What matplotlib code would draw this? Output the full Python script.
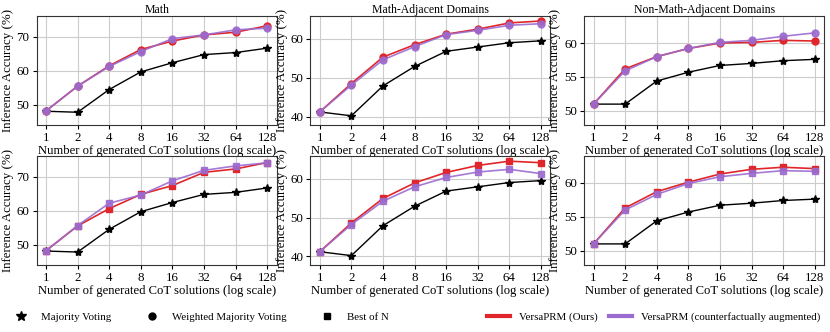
import numpy as np
import matplotlib
matplotlib.use("Agg")
import matplotlib.pyplot as plt
from matplotlib.lines import Line2D

# =========================
# DATA
# =========================
n_values = [1, 2, 4, 8, 16, 32, 64, 128]
titles = ["Math", "Math-Adjacent Domains", "Non-Math-Adjacent Domains"]

majority = [
    [48.1, 47.8, 54.5, 59.7, 62.4, 64.8, 65.4, 66.7],
    [41.2, 40.2, 47.9, 52.9, 56.8, 57.9, 59.0, 59.5],
    [51.0, 51.0, 54.4, 55.7, 56.7, 57.0, 57.4, 57.6],
]

# weighted majority voting (top row)
wmv_ours = [
    [48.2, 55.5, 61.5, 66.3, 68.8, 70.6, 71.4, 73.3],
    [41.2, 48.5, 55.3, 58.5, 61.2, 62.5, 64.1, 64.6],
    [51.0, 56.2, 58.0, 59.2, 60.0, 60.1, 60.4, 60.3],
]
wmv_aug = [
    [48.2, 55.5, 61.3, 65.7, 69.5, 70.6, 72.1, 72.6],
    [41.2, 48.1, 54.6, 58.0, 61.1, 62.2, 63.5, 63.9],
    [51.0, 55.9, 58.0, 59.2, 60.1, 60.4, 61.0, 61.5],
]

# best of N (bottom row)
bon_ours = [
    [48.2, 55.5, 60.6, 64.8, 67.4, 71.3, 72.3, 74.2],
    [41.2, 48.6, 54.9, 58.9, 61.6, 63.4, 64.5, 64.1],
    [51.0, 56.3, 58.7, 60.1, 61.3, 62.0, 62.3, 62.1],
]
bon_aug = [
    [48.2, 55.6, 62.2, 64.6, 68.8, 71.9, 73.2, 74.1],
    [41.2, 48.2, 54.2, 57.9, 60.3, 61.7, 62.4, 61.3],
    [51.0, 56.0, 58.3, 59.9, 60.9, 61.4, 61.8, 61.7],
]

ylims = [(44, 76.2), (37.8, 65.9), (47.9, 64.0)]
yticks = [[50, 60, 70], [40, 50, 60], [50, 55, 60]]

RED = "#e0262b"
PURPLE = "#9b6bd0"

plt.rcParams["font.family"] = ["Liberation Serif", "DejaVu Serif"]
plt.rcParams["mathtext.fontset"] = "stix"

fig, axes = plt.subplots(2, 3, figsize=(8.3, 3.32), dpi=100)
fig.subplots_adjust(left=0.044, right=0.993, top=0.952, bottom=0.202,
                    wspace=0.14, hspace=0.28)

x = np.arange(len(n_values))

for row in range(2):
    for col in range(3):
        ax = axes[row, col]
        if row == 0:
            ours, aug, mk = wmv_ours[col], wmv_aug[col], "o"
        else:
            ours, aug, mk = bon_ours[col], bon_aug[col], "s"

        ax.plot(x, majority[col], color="black", marker="*", markersize=6,
                linewidth=1.0, zorder=3)
        ax.plot(x, ours, color=RED, marker=mk, markersize=5,
                linewidth=1.2, zorder=4)
        ax.plot(x, aug, color=PURPLE, marker=mk, markersize=5,
                linewidth=1.2, alpha=0.9, zorder=5)

        ax.set_xticks(x)
        ax.set_xticklabels([str(v) for v in n_values])
        ax.set_xlim(-0.3, len(n_values) - 0.7)
        ax.set_ylim(*ylims[col])
        ax.set_yticks(yticks[col])
        ax.grid(True, color="#cccccc", linewidth=0.8)
        ax.set_axisbelow(True)
        ax.tick_params(labelsize=9.3, length=3, pad=2)
        ax.set_xlabel("Number of generated CoT solutions (log scale)",
                      fontsize=9.1, labelpad=1)
        ax.set_ylabel("Inference Accuracy (%)", fontsize=9.3, labelpad=2)
        for sp in ax.spines.values():
            sp.set_color("#333333")
            sp.set_linewidth(0.8)
        if row == 0:
            ax.set_title(titles[col], fontsize=8.5, pad=2)

# legend: marker meanings on the left, model colours on the right
marker_handles = [
    Line2D([], [], color="black", marker="*", linestyle="none", markersize=7),
    Line2D([], [], color="black", marker="o", linestyle="none", markersize=5),
    Line2D([], [], color="black", marker="s", linestyle="none", markersize=5),
]
marker_labels = ["Majority Voting", "Weighted Majority Voting", "Best of N"]
line_handles = [
    Line2D([], [], color=RED, linewidth=3),
    Line2D([], [], color=PURPLE, linewidth=3),
]
line_labels = ["VersaPRM (Ours)", "VersaPRM (counterfactually augmented)"]

fig.legend(marker_handles, marker_labels, loc="lower left",
           bbox_to_anchor=(0.0, 0.0), ncol=3, frameon=False, fontsize=7.8,
           handlelength=2.0, columnspacing=2.7, handletextpad=0.9)
fig.legend(line_handles, line_labels, loc="lower right",
           bbox_to_anchor=(1.0, 0.0), ncol=2, frameon=False, fontsize=7.8,
           handlelength=2.2, columnspacing=1.0, handletextpad=0.8)

plt.savefig("out.png", dpi=100)
